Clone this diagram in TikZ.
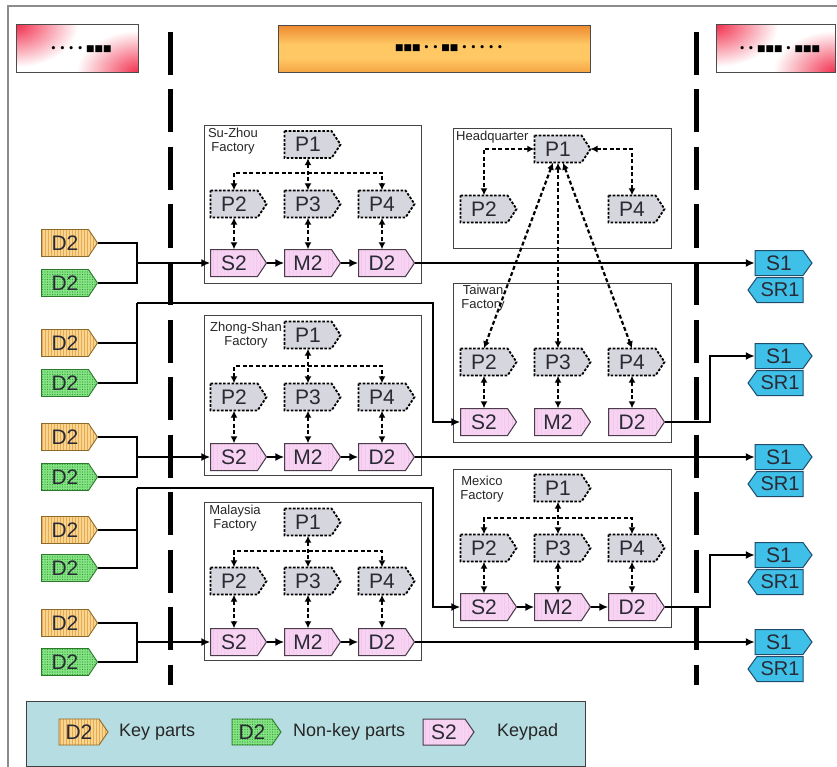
\documentclass[tikz,border=0pt]{standalone}
\usepackage{fontspec}
\setmainfont{Liberation Sans}
\newfontfamily\djv{DejaVu Sans}
\usetikzlibrary{arrows.meta,patterns.meta,shadings}

\definecolor{keyfill}{HTML}{F9D590}
\definecolor{keyline}{HTML}{E6AA52}
\definecolor{keybord}{HTML}{8C6A2A}
\definecolor{nkfill}{HTML}{86E486}
\definecolor{nkdot}{HTML}{2FA02F}
\definecolor{nkbord}{HTML}{2D7A2D}
\definecolor{pkfill}{HTML}{F8D2F3}
\definecolor{pkline}{HTML}{E6B0E0}
\definecolor{pkbord}{HTML}{4A3C4A}
\definecolor{pfill}{HTML}{D5D6DE}
\definecolor{cyfill}{HTML}{3EC0E8}
\definecolor{cybord}{HTML}{1E4C6A}
\definecolor{txtc}{HTML}{2A2A35}
\definecolor{hred}{HTML}{F2304E}
\definecolor{hor1}{HTML}{EE8A30}
\definecolor{hor2}{HTML}{FFC864}
\definecolor{hor3}{HTML}{F6A444}
\definecolor{legfill}{HTML}{B6DDE1}
\definecolor{framec}{HTML}{8C8C8C}
\definecolor{boxc}{HTML}{444444}

\pgfdeclareverticalshading{orangebar}{100bp}{color(0bp)=(hor3); color(25bp)=(hor3); color(40bp)=(hor2); color(55bp)=(hor2); color(75bp)=(hor1); color(100bp)=(hor1)}

\tikzset{
 tagtxt/.style={inner sep=0pt, text=txtc, font=\fontsize{21}{21}\selectfont},
 keytag/.style={preaction={fill=keyfill}, pattern={Lines[angle=90,distance=3pt,line width=0.9pt]}, pattern color=keyline, draw=keybord, line width=0.9pt},
 nktag/.style={preaction={fill=nkfill}, pattern={Dots[distance=2.5pt,radius=0.55pt]}, pattern color=nkdot, draw=nkbord, line width=0.9pt},
 pktag/.style={preaction={fill=pkfill}, pattern={Lines[angle=90,distance=4pt,line width=0.7pt]}, pattern color=pkline, draw=pkbord, line width=1pt},
 ptag/.style={fill=pfill, draw=black, line width=1.8pt, dash pattern=on 2.6pt off 1.6pt},
 cytag/.style={fill=cyfill, draw=cybord, line width=1pt},
 fbox/.style={draw=boxc, line width=1.3pt, inner sep=0pt, fill=white, anchor=north west},
 flab/.style={align=center, inner sep=0pt, text=black!85, font=\fontsize{13}{14.5}\selectfont},
 dl/.style={line width=2.2pt, dash pattern=on 4pt off 2.5pt, {Latex[length=7pt,width=7pt]}-{Latex[length=7pt,width=7pt]}},
 fl/.style={line width=2.6pt, -{Latex[length=9pt,width=8pt]}},
 inl/.style={line width=2pt},
 vdash/.style={line width=5pt, dash pattern=on 43pt off 14.5pt},
 legtxt/.style={anchor=west, inner sep=0pt, text=black!85, font=\fontsize{18}{18}\selectfont},
 hdrtxt/.style={font=\djv\bfseries\fontsize{9}{9}\selectfont, inner sep=0pt},
 hdrbox/.style={fill=white, minimum height=47, anchor=north west, inner sep=0pt},
 hdrline/.style={draw=black!70, line width=1pt},
 glow/.style={inner color=hred, outer color=white},
}

% tag pointing east: name, x, y, body width, height, text, style
\newcommand\tagE[7]{%
  \path[#7] (#2-#4/2,#3-#5/2) -- (#2+#4/2,#3-#5/2) -- (#2+#4/2+9,#3) -- (#2+#4/2,#3+#5/2) -- (#2-#4/2,#3+#5/2) -- cycle;
  \node[tagtxt, minimum width=#4, minimum height=#5] (#1) at (#2,#3) {#6};
  \coordinate (#1t) at (#2+#4/2+9,#3);
}
% tag pointing west
\newcommand\tagW[7]{%
  \path[#7] (#2+#4/2,#3-#5/2) -- (#2-#4/2,#3-#5/2) -- (#2-#4/2-9,#3) -- (#2-#4/2,#3+#5/2) -- (#2+#4/2,#3+#5/2) -- cycle;
  \node[tagtxt, minimum width=#4, minimum height=#5, font=\fontsize{20}{20}\selectfont] (#1) at (#2,#3) {#6};
}
% standard factory: prefix, first column x, P1 y, bar y, P row y, S row y
\newcommand\factory[6]{%
  \pgfmathsetmacro\fcA{#2}\pgfmathsetmacro\fcB{#2+74}\pgfmathsetmacro\fcC{#2+148}%
  \tagE{#1P1}{\fcB}{#3}{47}{27}{P1}{ptag}
  \tagE{#1P2}{\fcA}{#5}{47}{27}{P2}{ptag}
  \tagE{#1P3}{\fcB}{#5}{47}{27}{P3}{ptag}
  \tagE{#1P4}{\fcC}{#5}{47}{27}{P4}{ptag}
  \tagE{#1S2}{\fcA}{#6}{47}{27}{S2}{pktag}
  \tagE{#1M2}{\fcB}{#6}{47}{27}{M2}{pktag}
  \tagE{#1D2}{\fcC}{#6}{47}{27}{D2}{pktag}
  \coordinate (#1bl) at (\fcA,#4);
  \coordinate (#1br) at (\fcC,#4);
  \draw[dl] (#1P1) -- (#1P3);
  \draw[dl] (#1P2) -- (#1bl) -- (#1br) -- (#1P4);
  \draw[dl] (#1P2) -- (#1S2);
  \draw[dl] (#1P3) -- (#1M2);
  \draw[dl] (#1P4) -- (#1D2);
  \draw[fl] (#1S2t) -- (#1M2);
  \draw[fl] (#1M2t) -- (#1D2);
}
% pink-corner header box: name, corner x, corner y, width, dots
\newcommand\redhdr[5]{%
  \node[hdrbox, minimum width=#4] (#1) at (#2,#3) {};
  \begin{scope}
    \clip (#1.north west) rectangle (#1.south east);
    \shade[glow] (#1.north west) ellipse [x radius=62, y radius=42];
    \shade[glow] (#1.south east) ellipse [x radius=62, y radius=42];
  \end{scope}
  \draw[hdrline] (#1.north west) rectangle (#1.south east);
  \node[hdrtxt] (#1t) at ([xshift=4pt]#1.center) {#5};
}

\begin{document}
\begin{tikzpicture}[x=1pt,y=-1pt]
\useasboundingbox (0,0) rectangle (837,767);
\fill[white] (0,0) rectangle (837,767);

% outer frame
\draw[framec, line width=2.5pt] (8,767) -- (8,6) -- (837,6);

% headers
\redhdr{H1}{16}{25}{122}{• • • • ■■■}
\node[shade, shading=orangebar, draw=black!70, line width=1pt, minimum width=312, minimum height=47, anchor=north west] (H2) at (278,25) {};
\node[hdrtxt] (H2t) at (449,48) {■■■ • • ■■ • • • • •};
\redhdr{H3}{716}{25}{119}{• • ■■■ • ■■■}

% vertical dashed separators
\coordinate (VL1t) at (170,32); \coordinate (VL1b) at (170,685);
\coordinate (VL2t) at (696,32); \coordinate (VL2b) at (696,685);
\draw[vdash] (VL1t) -- (VL1b);
\draw[vdash] (VL2t) -- (VL2b);

% factory boxes
\node[fbox, minimum width=217, minimum height=158] (SZbox) at (204,125) {};
\node[fbox, minimum width=217, minimum height=160] (ZSbox) at (204,315) {};
\node[fbox, minimum width=217, minimum height=158] (MYbox) at (204,502) {};
\node[fbox, minimum width=218, minimum height=120] (HQbox) at (453,128) {};
\node[fbox, minimum width=218, minimum height=159] (TWbox) at (453,283) {};
\node[fbox, minimum width=218, minimum height=158] (MXbox) at (453,469) {};

% labels
\node[flab] (SZlab) at (233,141) {Su-Zhou\\Factory};
\node[flab] (ZSlab) at (246,335) {Zhong-Shan\\Factory};
\node[flab] (MYlab) at (235,518) {Malaysia\\Factory};
\node[flab] (TWlab) at (483,298) {Taiwan\\Factory};
\node[flab] (MXlab) at (482,489) {Mexico\\Factory};
\node[flab, anchor=west] (HQlab) at (456,137) {Headquarter};

% factories
\factory{SZ}{234}{144.5}{173}{204}{263}
\factory{ZS}{234}{335}{366}{397}{457}
\factory{MY}{234}{522}{551}{581}{642}
\factory{MX}{484}{488}{518}{548}{607}

% headquarter
\tagE{HQP1}{558}{149}{47}{27}{P1}{ptag}
\tagE{HQP2}{484}{209}{47}{27}{P2}{ptag}
\tagE{HQP4}{632}{209}{47}{27}{P4}{ptag}

% taiwan
\tagE{TWP2}{484}{362}{47}{27}{P2}{ptag}
\tagE{TWP3}{558}{362}{47}{27}{P3}{ptag}
\tagE{TWP4}{632}{362}{47}{27}{P4}{ptag}
\tagE{TWS2}{484}{422}{47}{27}{S2}{pktag}
\tagE{TWM2}{558}{422}{47}{27}{M2}{pktag}
\tagE{TWD2}{632}{422}{47}{27}{D2}{pktag}
\draw[dl] (TWP2) -- (TWS2);
\draw[dl] (TWP3) -- (TWM2);
\draw[dl] (TWP4) -- (TWD2);

\draw[dl] (HQP1.west) -| (HQP2.north);
\draw[dl] (HQP1t) -| (HQP4.north);
\draw[dl] ([xshift=-5pt]HQP1.south) -- (TWP2.north);
\draw[dl] (HQP1.south) -- (TWP3.north);
\draw[dl] ([xshift=5pt]HQP1.south) -- (TWP4.north);

% left inputs
\tagE{K1}{65}{243}{47}{27}{D2}{keytag}
\tagE{G1}{65}{283}{47}{27}{D2}{nktag}
\tagE{K2}{65}{343}{47}{27}{D2}{keytag}
\tagE{G2}{65}{383}{47}{27}{D2}{nktag}
\tagE{K3}{65}{437}{47}{27}{D2}{keytag}
\tagE{G3}{65}{477}{47}{27}{D2}{nktag}
\tagE{K4}{65}{530}{47}{27}{D2}{keytag}
\tagE{G4}{65}{568}{47}{27}{D2}{nktag}
\tagE{K5}{65}{623}{47}{27}{D2}{keytag}
\tagE{G5}{65}{662}{47}{27}{D2}{nktag}

\coordinate (j1) at (137,263);
\coordinate (j2) at (137,303);
\coordinate (j3) at (137,457);
\coordinate (j4) at (137,488);
\coordinate (j5) at (137,642);
\coordinate (c2) at (433,303);
\coordinate (c4) at (433,488);

\draw[inl] (K1t) -| (j1); \draw[inl] (G1t) -| (j1);
\draw[inl] (K2t) -| (j2); \draw[inl] (G2t) -| (j2);
\draw[inl] (K3t) -| (j3); \draw[inl] (G3t) -| (j3);
\draw[inl] (K4t) -| (j4); \draw[inl] (G4t) -| (j4);
\draw[inl] (K5t) -| (j5); \draw[inl] (G5t) -| (j5);

\draw[fl] (j1) -- (SZS2);
\draw[fl] (j2) -- (c2) |- (TWS2);
\draw[fl] (j3) -- (ZSS2);
\draw[fl] (j4) -- (c4) |- (MXS2);
\draw[fl] (j5) -- (MYS2);

% right outputs
\tagE{S1a}{779}{263}{48}{25}{S1}{cytag}
\tagW{SR1a}{780}{290}{46}{25}{SR1}{cytag}
\tagE{S1b}{779}{356}{48}{25}{S1}{cytag}
\tagW{SR1b}{780}{383}{46}{25}{SR1}{cytag}
\tagE{S1c}{779}{457}{48}{25}{S1}{cytag}
\tagW{SR1c}{780}{484}{46}{25}{SR1}{cytag}
\tagE{S1d}{779}{555}{48}{25}{S1}{cytag}
\tagW{SR1d}{780}{582}{46}{25}{SR1}{cytag}
\tagE{S1e}{779}{642}{48}{25}{S1}{cytag}
\tagW{SR1e}{780}{669}{46}{25}{SR1}{cytag}

\coordinate (r2) at (710,422);
\coordinate (r4) at (710,607);
\draw[fl] (SZD2t) -- (S1a);
\draw[fl] (TWD2t) -- (r2) |- (S1b);
\draw[fl] (ZSD2t) -- (S1c);
\draw[fl] (MXD2t) -- (r4) |- (S1d);
\draw[fl] (MYD2t) -- (S1e);

% legend
\node[draw=black!75, line width=1pt, fill=legfill, minimum width=559, minimum height=65, anchor=north west] (leg) at (26,701) {};
\tagE{LK}{79}{732}{40}{26}{D2}{keytag}
\node[legtxt] (LKt) at (119,732) {Key parts};
\tagE{LN}{252}{732}{40}{26}{D2}{nktag}
\node[legtxt] (LNt) at (293,732) {Non-key parts};
\tagE{LS}{444}{732}{42}{26}{S2}{pktag}
\node[legtxt] (LSt) at (497,732) {Keypad};
\end{tikzpicture}
\end{document}
